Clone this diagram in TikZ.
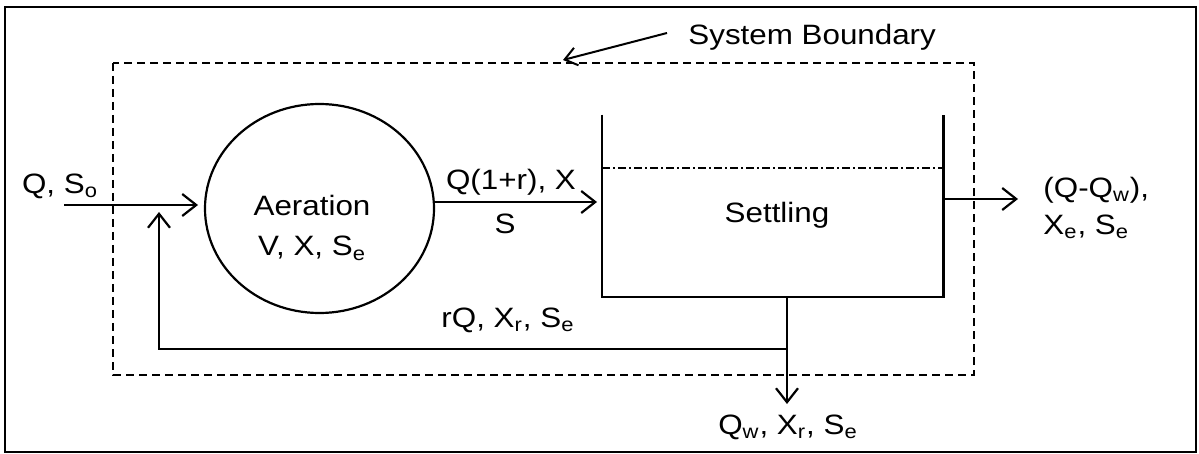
\documentclass[tikz,border=0pt]{standalone}
\usepackage{fontspec}
\setmainfont{Liberation Sans}[FakeStretch=1.12]
\usetikzlibrary{arrows.meta,shapes.geometric}

\begin{document}
\begin{tikzpicture}[x=0.5pt,y=-0.5pt]

\tikzset{unit/.style = {shape=ellipse,draw,line width=1.1pt,minimum width=114.5pt,minimum height=104.5pt,inner sep=0pt}}
\tikzset{flow/.style = {-{Straight Barb[length=7pt,width=11pt]},line width=1.1pt}}
\tikzset{lbl/.style = {font=\fontsize{14}{20}\selectfont,inner sep=0pt}}

\useasboundingbox (0,0) rectangle (1199,454);
\draw[line width=1.3pt] (5,7) rectangle (1196,452);

% system boundary
\draw[line width=1.2pt,dash pattern=on 4pt off 2.5pt] (113,63) rectangle (974,375);
\node[lbl,anchor=west] (sb) at (688,37) {System Boundary};
\coordinate (sbtail) at (667,33);
\coordinate (sbtip) at (563,60);
\draw[-{Straight Barb[length=6pt,width=9pt]},line width=1pt] (sbtail) -- (sbtip);

% aeration basin
\node[unit] (aer) at (319.5,208.5) {};
\node[lbl,align=center] (aertxt) at (312,228) {Aeration\\V, X, S\textsubscript{e}};

% settling tank
\node[inner sep=0pt,minimum width=170.5pt,minimum height=91pt] (tank) at (772.5,206) {};
\draw[line width=1.1pt] (tank.north west) -- (tank.south west) -- (tank.south east) -- (tank.north east);
\coordinate (wl) at (602,168);
\coordinate (wr) at (943,168);
\draw[line width=0.9pt,dash pattern=on 4pt off 1.5pt on 1pt off 1.5pt] (wl) -- (wr);
\node[lbl] (settxt) at (777,215) {Settling};

% influent
\coordinate (in) at (64,205);
\coordinate (inend) at (198,205);
\draw[flow] (in) -- (inend);
\node[lbl] (qin) at (60,186) {Q, S\textsubscript{o}};

% aeration to settling
\coordinate (aerout) at (435,202);
\coordinate (tankin) at (597,202);
\draw[flow] (aerout) -- (tankin);
\node[lbl] (qmix) at (511,182) {Q(1+r), X};
\node[lbl] (smix) at (505,224) {S};

% effluent
\coordinate (tankout) at (943,199);
\coordinate (eff) at (1018,199);
\draw[flow] (tankout) -- (eff);
\node[lbl,anchor=west] (qeff) at (1043,190) {(Q-Q\textsubscript{w}),};
\node[lbl,anchor=west] (xeff) at (1043,227) {X\textsubscript{e}, S\textsubscript{e}};

% underflow, recycle and wasting
\coordinate (uf) at (787,297);
\coordinate (split) at (787,349);
\coordinate (waste) at (787,404);
\coordinate (rc) at (159,349);
\coordinate (rcend) at (159,212);
\draw[flow] (uf) -- (waste);
\draw[flow] (split) -- (rc) -- (rcend);
\node[lbl] (qrec) at (508,320) {rQ, X\textsubscript{r}, S\textsubscript{e}};
\node[lbl] (qwas) at (788,427) {Q\textsubscript{w}, X\textsubscript{r}, S\textsubscript{e}};

\end{tikzpicture}
\end{document}
